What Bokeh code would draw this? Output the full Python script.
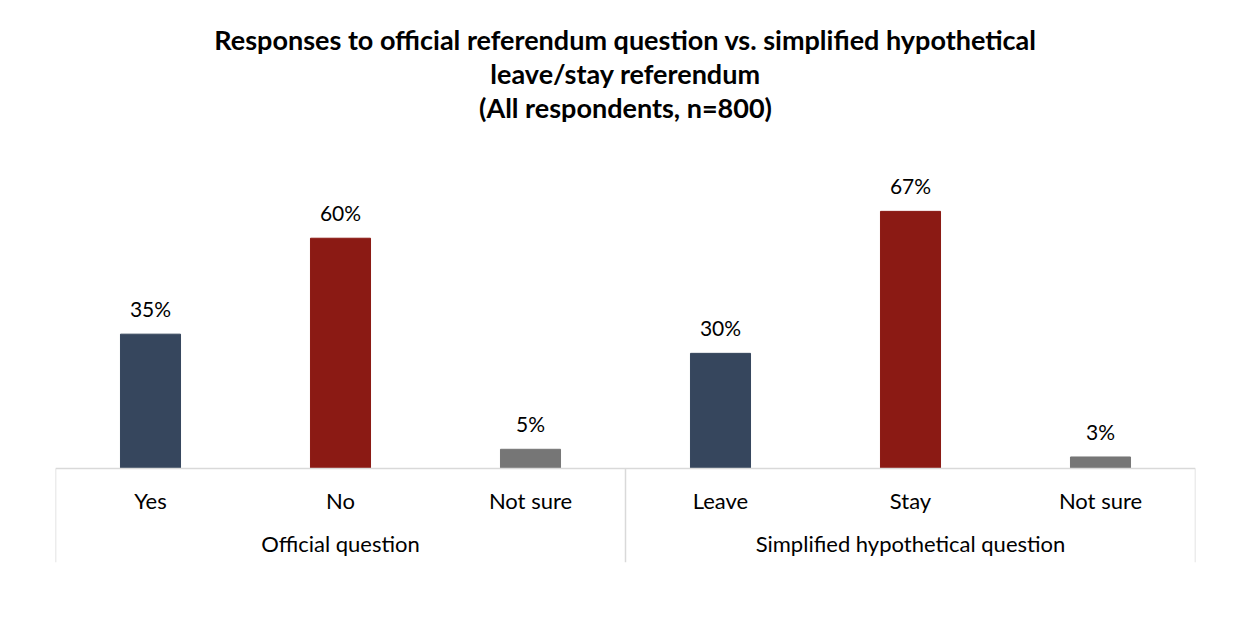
from bokeh.plotting import figure
from bokeh.models import FactorRange, ColumnDataSource, LabelSet, Label, Whisker, Range1d
from bokeh.core.properties import value
from bokeh.embed import file_html
from bokeh.resources import INLINE

groups = ["Official question", "Official question", "Official question",
          "Simplified hypothetical question", "Simplified hypothetical question", "Simplified hypothetical question"]
answers = ["Yes", "No", "Not sure", "Leave", "Stay", "Not sure"]
values = [35, 60, 5, 30, 67, 3]
colors = ["#36465D", "#8B1A14", "#767676", "#36465D", "#8B1A14", "#767676"]
title_lines = ["Responses to official referendum question vs. simplified hypothetical",
               "leave/stay referendum",
               "(All respondents, n=800)"]

FONT = "Lato"
factors = list(zip(groups, answers))
src = ColumnDataSource(dict(x=factors, top=values, color=colors,
                            label=[f"{v}%" for v in values]))

xr = FactorRange(*factors, group_padding=0, factor_padding=0, range_padding=0)
p = figure(width=1248, height=622, x_range=xr, y_range=Range1d(-24.5, 121.95),
           output_backend="svg", toolbar_location=None,
           min_border_left=55, min_border_right=53, min_border_top=0, min_border_bottom=60)
p.vbar(x="x", top="top", width=0.316, color="color", source=src)

p.add_layout(LabelSet(x="x", y="top", text="label", source=src, text_align="center",
                      text_baseline="bottom", y_offset=13, text_font=value(FONT),
                      text_font_size="21px", text_color="#000000"))

# group separators
sep = ColumnDataSource(dict(base=[0, 3, 6], lower=[-24.5, -24.5, -24.5], upper=[0, 0, 0]))
p.add_layout(Whisker(base="base", lower="lower", upper="upper", source=sep, dimension="height",
                     line_color="#D9D9D9", line_width=1.5, lower_head=None, upper_head=None))

p.yaxis.visible = False
p.xgrid.visible = False
p.ygrid.visible = False
p.outline_line_color = None
ax = p.xaxis[0]
ax.fixed_location = 0
ax.axis_line_color = "#D9D9D9"
ax.axis_line_width = 1.5
ax.major_tick_line_color = None
ax.minor_tick_line_color = None
ax.major_label_text_font = FONT
ax.major_label_text_font_size = "22px"
ax.major_label_text_color = "#000000"
ax.group_text_font = FONT
ax.group_text_font_size = "22px"
ax.group_text_color = "#000000"
ax.group_text_font_style = "normal"
ax.major_label_standoff = 13
ax.separator_line_color = None

ys = [111.8, 102.9, 94.0]
for t, yy in zip(title_lines, ys):
    p.add_layout(Label(x=3, y=yy, text=t,
                       text_align="center", text_baseline="middle", text_font=FONT,
                       text_font_style="bold", text_font_size="27px", text_color="#000000"))

open("out.html", "w").write(file_html(p, INLINE))
